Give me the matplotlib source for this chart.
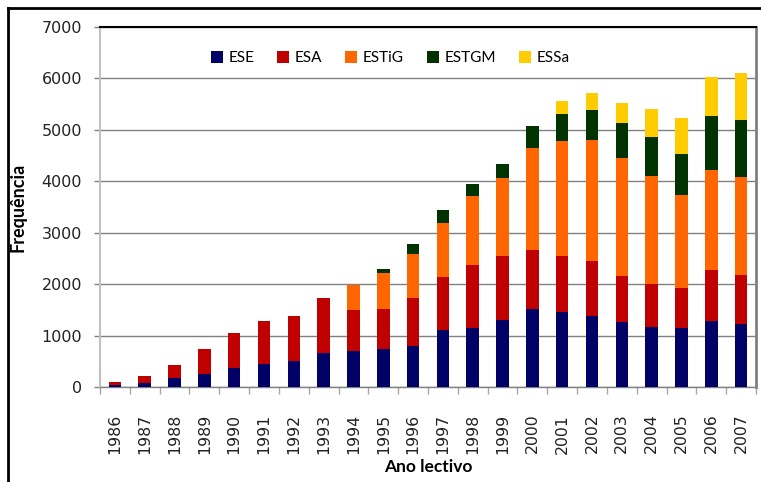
import matplotlib
matplotlib.use("Agg")
import matplotlib.pyplot as plt
from matplotlib.lines import Line2D
import numpy as np

years = [str(y) for y in range(1986, 2008)]
ese   = [40, 90, 187, 265, 381, 459, 511, 667, 706, 745, 803, 1114, 1153, 1309, 1523, 1464, 1386, 1270, 1172, 1153, 1290, 1231]
esa   = [70, 136, 253, 480, 681, 830, 875, 1069, 797, 778, 933, 1031, 1225, 1244, 1147, 1089, 1070, 894, 837, 778, 991, 953]
estig = [0, 0, 0, 0, 0, 0, 0, 0, 489, 699, 856, 1050, 1342, 1518, 1985, 2238, 2355, 2297, 2101, 1809, 1946, 1907]
estgm = [0, 0, 0, 0, 0, 0, 0, 0, 0, 78, 194, 253, 234, 272, 427, 525, 583, 680, 759, 798, 1050, 1108]
essa  = [0, 0, 0, 0, 0, 0, 0, 0, 0, 0, 0, 0, 0, 0, 0, 251, 328, 389, 544, 685, 757, 913]
series_names = ["ESE", "ESA", "ESTiG", "ESTGM", "ESSa"]
colors = ["#000066", "#C00000", "#FF6600", "#003300", "#FFCC00"]
yticks = [0, 1000, 2000, 3000, 4000, 5000, 6000, 7000]

W, H = 761, 482
fig = plt.figure(figsize=(W / 100, H / 100), dpi=100)
fig.patch.set_facecolor("white")
left, right, top, bottom = 100, 756, 27, 387.3
ax = fig.add_axes([left / W, 1 - bottom / H, (right - left) / W, (bottom - top) / H])

x = np.arange(len(years))
base = np.zeros(len(years))
for name, vals, c in zip(series_names, [ese, esa, estig, estgm, essa], colors):
    v = np.array(vals, dtype=float)
    ax.bar(x, v, width=0.42, bottom=base, color=c, label=name, zorder=3,
           edgecolor="none")
    base += v

ax.set_xlim(-0.5, len(years) - 0.5)
ax.set_ylim(0, 7000)
ax.set_yticks(yticks)
ax.set_yticklabels([str(t) for t in yticks])
ax.yaxis.grid(True, color="#808080", linewidth=1.0, zorder=0)
ax.set_axisbelow(True)

ax.set_xticks(x)
ax.set_xticklabels(years, rotation=90)
ax.set_xticks(np.arange(-0.5, len(years)), minor=True)
ax.tick_params(axis="x", which="major", length=0, pad=19, labelsize=11.3,
               labelcolor="#222222")
ax.tick_params(axis="x", which="minor", length=5, width=1, color="#a6a6a6",
               direction="out")
ax.tick_params(axis="y", length=4, width=1, color="#808080", pad=9,
               labelsize=11.5, labelcolor="#222222")

ax.spines["top"].set_color("black")
ax.spines["top"].set_linewidth(1.5)
ax.spines["right"].set_color("#808080")
ax.spines["right"].set_linewidth(2)
ax.spines["left"].set_color("#c0c0c0")
ax.spines["left"].set_linewidth(1.5)
ax.spines["bottom"].set_color("#808080")
ax.spines["bottom"].set_linewidth(1)

ax.set_ylabel("Frequência", fontfamily="Lato", fontweight="bold", fontsize=13)
ax.yaxis.set_label_coords(-(100 - 27) / (right - left), 0.5)
ax.set_xlabel("Ano lectivo", fontfamily="Lato", fontweight="bold", fontsize=12.5)
ax.xaxis.set_label_coords(0.5, -(459 - bottom) / (bottom - top))

leg = ax.legend(loc="center", bbox_to_anchor=((390 - left) / (right - left),
                (bottom - 58) / (bottom - top)),
                ncol=5, frameon=False, prop={"family": "Lato", "size": 11},
                handlelength=0.8, handleheight=0.8, handletextpad=0.35,
                columnspacing=1.5)

# outer chart frame
fig.add_artist(Line2D([8 / W, 1], [1 - 8 / H, 1 - 8 / H], color="black", linewidth=2,
                      transform=fig.transFigure))
fig.add_artist(Line2D([8 / W, 8 / W], [0, 1 - 8 / H], color="black", linewidth=2,
                      transform=fig.transFigure))

fig.savefig("out.png", dpi=100)
